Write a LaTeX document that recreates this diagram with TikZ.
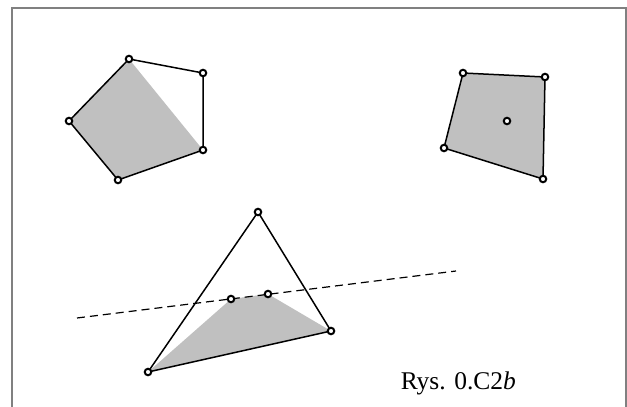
\documentclass[tikz,border=0pt]{standalone}
\usepackage{fontspec}
\setmainfont{Liberation Serif}
\usetikzlibrary{calc}
\definecolor{shadeGray}{HTML}{C0C0C0}
\definecolor{frameGray}{HTML}{808080}

\begin{document}
\begin{tikzpicture}[x=1pt, y=-1pt, line width=1.5pt,
    dot/.style={circle, draw, fill=white, line width=2pt, inner sep=0pt, minimum size=6.5pt}]
    \useasboundingbox (0,0) rectangle (627,407);
    \draw[frameGray, line width=2pt] (11.5,7.5) rectangle (626,412);
    % pentagon
    \coordinate (p1) at (129,59);
    \coordinate (p2) at (203,73);
    \coordinate (p3) at (203,150);
    \coordinate (p4) at (118,180);
    \coordinate (p5) at (69,121);
    \fill[shadeGray] (p1) -- (p3) -- (p4) -- (p5) -- cycle;
    \draw (p1) -- (p2) -- (p3) -- (p4) -- (p5) -- cycle;
    % quadrilateral
    \coordinate (q1) at (463,73);
    \coordinate (q2) at (545,77);
    \coordinate (q3) at (543,179);
    \coordinate (q4) at (444,148);
    \coordinate (q0) at (507,121);
    \filldraw[fill=shadeGray] (q1) -- (q2) -- (q3) -- (q4) -- cycle;
    % triangle cut by a line
    \coordinate (t1) at (258,212);
    \coordinate (t2) at (331,331);
    \coordinate (t3) at (148,372);
    \coordinate (l1) at (77,318);
    \coordinate (l2) at (456,271);
    \coordinate (s1) at (231,299);
    \coordinate (s2) at (268,294);
    \fill[shadeGray] (t3) -- (s1) -- (s2) -- (t2) -- cycle;
    \draw (t1) -- (t2) -- (t3) -- cycle;
    \draw[dash pattern=on 8pt off 5pt, line width=1.2pt] (l1) -- (l2);
    \foreach \c in {p1,p2,p3,p4,p5,q1,q2,q3,q4,q0,t1,t2,t3,s1,s2}
      \node[dot] (d\c) at (\c) {};
    \node[anchor=base west, inner sep=0pt, font=\fontsize{25.5}{30}\selectfont]
      (caption) at (400,389) {Rys. 0.C2\textit{b}};
\end{tikzpicture}
\end{document}
